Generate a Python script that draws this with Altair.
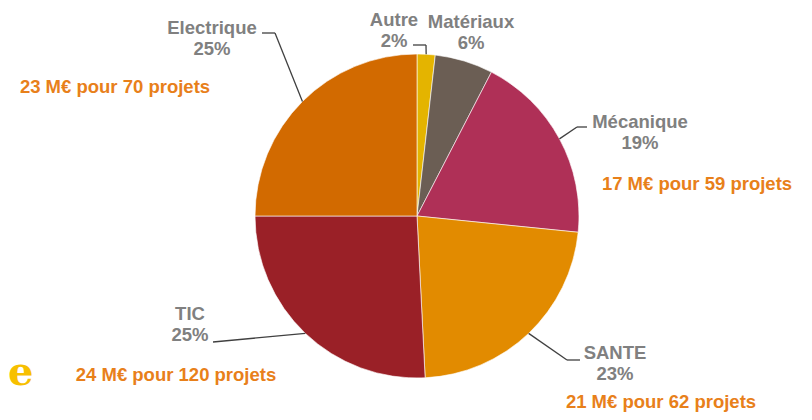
import altair as alt
import pandas as pd

# ---- data ----
categories = ["Autre", "Matériaux", "Mécanique", "SANTE", "TIC", "Electrique"]
shares = [1.8, 5.8, 19.0, 22.6, 25.8, 25.0]
pct_labels = ["2%", "6%", "19%", "23%", "25%", "25%"]
amounts = ["", "", "17 M€ pour 59 projets", "21 M€ pour 62 projets",
           "24 M€ pour 120 projets", "23 M€ pour 70 projets"]
colors = ["#E4B400", "#6B5E54", "#AF3057", "#E28B00", "#9A2027", "#D26A00"]

# ---- layout (chart pixel coordinates) ----
CX, CY, R = 409, 208, 162
W, H = 796, 404
label_x = [386, 463, 632, 607, 182, 204]
label_y = [12, 14, 114, 345, 306, 20]
has_leader = [True, False, True, True, True, True]
leader_end_x = [405, 0, 579, 572, 205, 254]
leader_end_y = [37, 0, 119, 352, 334, 25]
elbow_x = [418, 0, 569, 559, 205, 267]
elbow_y = [37, 0, 119, 352, 334, 25]
amount_x = [0, 0, 689, 653, 168, 107]
amount_y = [0, 0, 176, 394, 367, 79]

FONT = "Liberation Sans"
GREY = "#808080"
ORANGE = "#E8801A"

df = pd.DataFrame({
    "idx": list(range(len(categories))),
    "category": categories,
    "share": shares,
    "pct": pct_labels,
    "amount": amounts,
    "lx": label_x, "ly": label_y,
    "leader": has_leader,
    "qx": leader_end_x, "qy": leader_end_y,
    "bx": elbow_x, "by": elbow_y,
    "ax": amount_x, "ay": amount_y,
})

xs = alt.Scale(domain=[0, W], range=[0, W], nice=False, zero=False)
ys = alt.Scale(domain=[0, H], range=[0, H], nice=False, zero=False)

base = alt.Chart(df)

arcs = base.mark_arc(outerRadius=R, stroke="#ffffff", strokeWidth=0.6).encode(
    theta=alt.Theta("share:Q", stack=True),
    color=alt.Color("category:N", scale=alt.Scale(domain=categories, range=colors), legend=None),
    order=alt.Order("idx:Q", sort="ascending"),
    x=alt.value(CX),
    y=alt.value(CY),
)

lead_base = base.transform_joinaggregate(
    total="sum(share)"
).transform_window(
    cum="sum(share)", sort=[alt.SortField("idx")], frame=[None, 0]
).transform_calculate(
    ang="2*PI*(datum.cum - datum.share/2)/datum.total",
    ex=f"{CX} + {R}*sin(datum.ang)",
    ey=f"{CY} - {R}*cos(datum.ang)",
).transform_filter("datum.leader")

rule_a = lead_base.mark_rule(color="#404040", strokeWidth=1.3).encode(
    x=alt.X("bx:Q", scale=xs, axis=None),
    y=alt.Y("by:Q", scale=ys, axis=None),
    x2="ex:Q", y2="ey:Q",
)
rule_b = lead_base.mark_rule(color="#404040", strokeWidth=1.3).encode(
    x=alt.X("qx:Q", scale=xs, axis=None),
    y=alt.Y("qy:Q", scale=ys, axis=None),
    x2="bx:Q", y2="by:Q",
)

names = base.mark_text(font=FONT, fontSize=18.5, fontWeight="bold", color=GREY,
                       baseline="middle", align="center").encode(
    x=alt.X("lx:Q", scale=xs, axis=None),
    y=alt.Y("ly:Q", scale=ys, axis=None),
    text="category:N",
)
pcts = base.mark_text(font=FONT, fontSize=18.5, fontWeight="bold", color=GREY,
                      baseline="middle", align="center", dy=21).encode(
    x=alt.X("lx:Q", scale=xs, axis=None),
    y=alt.Y("ly:Q", scale=ys, axis=None),
    text="pct:N",
)
amt = base.transform_filter("datum.amount != ''").mark_text(
    font=FONT, fontSize=18.5, fontWeight="bold", color=ORANGE,
    baseline="middle", align="center").encode(
    x=alt.X("ax:Q", scale=xs, axis=None),
    y=alt.Y("ay:Q", scale=ys, axis=None),
    text="amount:N",
)

deco = alt.Chart(pd.DataFrame({"t": ["e"]})).mark_text(
    font="DejaVu Serif", fontSize=40, fontWeight="bold", color="#F7C000",
    baseline="alphabetic", align="left").encode(
    x=alt.value(0), y=alt.value(377), text="t:N")

chart = alt.layer(arcs, rule_a, rule_b, names, pcts, amt, deco).properties(
    width=W, height=H, padding=0, autosize="none"
).configure_view(stroke=None)

chart.save("out.html", embed_options={"renderer": "svg", "actions": False})
